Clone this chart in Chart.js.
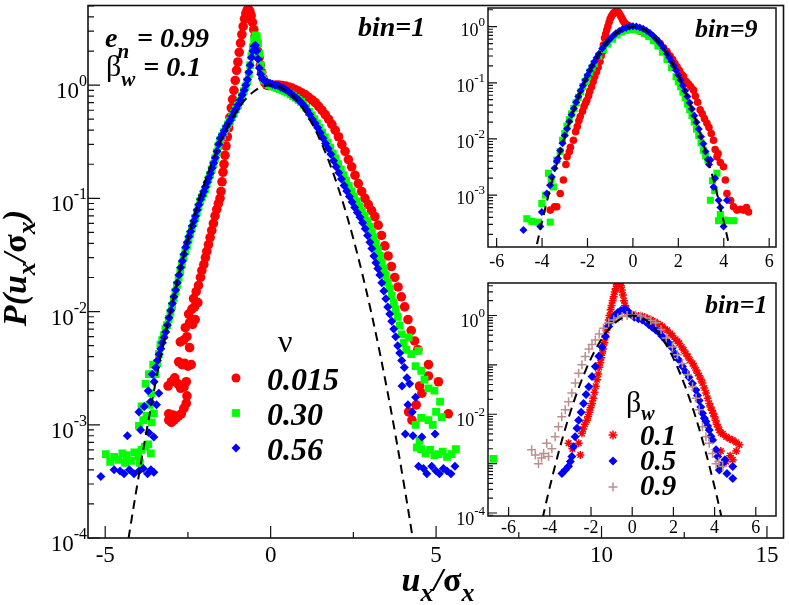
<!DOCTYPE html>
<html>
<head>
<meta charset="utf-8">
<script src="https://cdn.jsdelivr.net/npm/chart.js@4.4.1/dist/chart.umd.min.js"></script>
<style>
  body { margin: 0; background: #fff; }
  #wrap { position: relative; width: 789px; height: 605px; }
  canvas { position: absolute; }
</style>
</head>
<body>
<div id="wrap">
  <canvas id="mainChart" width="789" height="605" style="left:0;top:0"></canvas>
  <canvas id="topInset" width="349" height="280" style="left:440px;top:0"></canvas>
  <canvas id="botInset" width="349" height="280" style="left:440px;top:270px"></canvas>
</div>
<script>
// ---- data ----

// dashed reference curve, shared by all panels
const gaussX = [-4.5,-4.25,-4,-3.75,-3.5,-3.25,-3,-2.75,-2.5,-2.25,-2,-1.75,-1.5,-1.25,-1,-0.75,-0.5,-0.25,0,
                0.25,0.5,0.75,1,1.25,1.5,1.75,2,2.25,2.5,2.75,3,3.25,3.5,3.75,4,4.25,4.5];
const gaussY = [4.0e-5,1.2e-4,3.35e-4,8.85e-4,2.19e-3,5.1e-3,0.0111,0.0228,0.0439,0.0796,0.135,0.216,0.325,0.458,0.607,0.755,0.882,0.969,1.0,
                0.969,0.882,0.755,0.607,0.458,0.325,0.216,0.135,0.0796,0.0439,0.0228,0.0111,5.1e-3,2.19e-3,8.85e-4,3.35e-4,1.2e-4,4.0e-5];

// main panel, bin=1, nu = 0.015 / 0.30 / 0.56
const mainRed = [
  [-3.08,1.1e-3],[-3.0,1.05e-3],[-2.92,1.1e-3],[-2.85,1.15e-3],[-2.78,1.2e-3],[-2.7,1.25e-3],[-2.62,1.4e-3],[-2.55,1.55e-3],[-2.53,1.8e-3],[-3.08,1.25e-3],[-2.95,1.22e-3],
  [-3.1,2.2e-3],[-3.0,2.4e-3],[-2.9,2.6e-3],[-2.8,2.3e-3],[-2.72,2.1e-3],[-2.62,2.15e-3],[-2.55,2.4e-3],
  [-2.78,3.6e-3],[-2.68,3.4e-3],[-2.6,3.5e-3],[-2.5,3.3e-3],[-2.4,3.4e-3],
  [-2.73,5.4e-3],[-2.63,5.6e-3],[-2.53,6.0e-3],[-2.45,4.8e-3],
  [-2.58,7.2e-3],[-2.45,8.0e-3],[-2.36,7.7e-3],[-2.28,8.5e-3],
  [-2.48,9.5e-3],[-2.38,0.0105],[-2.3,0.011],[-2.2,0.012],
  [-2.33,0.013],[-2.25,0.015],[-2.18,0.017],[-2.12,0.02],[-2.08,0.023],[-2.02,0.026],[-1.97,0.03],[-1.93,0.034],[-1.88,0.039],[-1.83,0.045],
  [-1.78,0.052],[-1.73,0.06],[-1.68,0.07],[-1.63,0.08],[-1.58,0.09],[-1.53,0.1],[-1.5,0.115],[-1.47,0.14],[-1.44,0.17],[-1.41,0.2],
  [-1.38,0.24],[-1.35,0.29],[-1.31,0.35],[-1.27,0.42],[-1.23,0.52],[-1.19,0.63],[-1.15,0.75],[-1.11,0.9],[-1.07,1.1],[-1.03,1.35],
  [-0.99,1.6],[-0.95,1.95],[-0.91,2.35],[-0.87,2.8],[-0.83,3.3],[-0.79,3.85],[-0.75,4.3],[-0.71,4.6],[-0.67,4.7],[-0.63,4.5],
  [-0.59,4.1],[-0.55,3.6],[-0.51,3.1],[-0.47,2.7],[-0.43,2.3],[-0.39,2.0],[-0.35,1.75],[-0.31,1.5],[-0.27,1.3],[-0.23,1.15],
  [-0.18,1.05],[-0.12,1.0],[-0.05,0.99],[0.05,0.99],[0.15,1.0],[0.25,1.0],[0.35,0.99],[0.45,0.98],[0.55,0.96],[0.65,0.94],
  [0.75,0.91],[0.85,0.88],[0.95,0.85],[1.05,0.82],[1.15,0.78],[1.25,0.74],[1.35,0.7],[1.45,0.65],[1.55,0.6],[1.65,0.55],
  [1.75,0.5],[1.85,0.45],[1.95,0.4],[2.05,0.35],[2.15,0.3],[2.25,0.26],[2.35,0.22],[2.45,0.19],[2.55,0.16],[2.65,0.135],
  [2.75,0.115],[2.85,0.1],[2.95,0.088],[3.05,0.078],[3.15,0.069],[3.25,0.058],[3.35,0.047],[3.45,0.038],[3.55,0.031],[3.65,0.025],
  [3.75,0.02],[3.85,0.0165],[3.95,0.0135],[4.05,0.011],[4.15,8.5e-3],[4.25,6.8e-3],[4.35,5.5e-3],[4.45,4.6e-3],
  [4.77,3.4e-3],[4.77,2.7e-3],[5.07,2.4e-3],[4.57,1.9e-3],[4.17,1.3e-3],[4.27,1.1e-3],[4.4,1.5e-3],[5.37,1.25e-3],[4.5,2.2e-3]
];
const mainGreen = [
  [-4.98,5.5e-4],[-4.85,4.7e-4],[-4.73,5.2e-4],[-4.6,4.9e-4],[-4.48,5.6e-4],[-4.35,5.4e-4],[-4.22,4.8e-4],[-4.12,5.7e-4],[-4.0,5.3e-4],
  [-3.9,6.0e-4],[-3.8,6.4e-4],[-3.7,6.7e-4],[-3.62,5.6e-4],[-4.4,4.6e-4],[-3.95,4.6e-4],
  [-3.98,9.8e-4],[-3.85,1.1e-3],[-3.75,1.2e-3],[-3.6,1.05e-3],[-3.53,1.26e-3],[-3.9,1.45e-3],[-3.66,1.5e-3],[-3.78,2.3e-3],[-3.68,2.8e-3],[-3.6,1.9e-3],[-3.55,3.4e-3],
  [-3.48,2.8e-3],[-3.43,3.5e-3],[-3.38,4.2e-3],[-3.33,5.1e-3],[-3.28,5.6e-3],[-3.23,6.2e-3],[-3.18,7.0e-3],[-3.13,7.6e-3],[-3.08,8.6e-3],[-3.03,9.8e-3],
  [-2.98,0.0112],[-2.93,0.013],[-2.88,0.015],[-2.83,0.0172],[-2.78,0.0198],[-2.73,0.0225],[-2.68,0.026],[-2.63,0.03],[-2.58,0.034],[-2.53,0.038],
  [-2.48,0.043],[-2.43,0.048],[-2.38,0.054],[-2.33,0.06],[-2.28,0.067],[-2.23,0.075],[-2.18,0.084],[-2.13,0.094],[-2.08,0.102],[-2.03,0.11],
  [-1.98,0.12],[-1.93,0.133],[-1.88,0.147],[-1.83,0.162],[-1.78,0.18],[-1.73,0.2],[-1.68,0.225],[-1.63,0.255],[-1.58,0.29],[-1.53,0.325],
  [-1.47,0.355],[-1.41,0.385],[-1.35,0.415],[-1.29,0.45],[-1.23,0.48],[-1.17,0.52],[-1.11,0.56],[-1.05,0.61],[-0.99,0.66],[-0.93,0.72],
  [-0.87,0.8],[-0.81,0.88],[-0.76,0.97],[-0.71,1.08],[-0.66,1.25],[-0.62,1.5],[-0.58,1.8],[-0.54,2.15],[-0.5,2.5],[-0.46,2.75],
  [-0.42,2.7],[-0.38,2.35],[-0.34,1.9],[-0.3,1.5],[-0.26,1.25],[-0.2,1.1],[-0.12,1.03],[-0.04,1.0],[0.04,0.98],[0.12,0.96],
  [0.2,0.94],[0.28,0.92],[0.36,0.9],[0.44,0.88],[0.52,0.86],[0.6,0.83],[0.68,0.8],[0.76,0.77],[0.84,0.74],[0.92,0.71],
  [1.0,0.67],[1.08,0.63],[1.16,0.58],[1.24,0.54],[1.32,0.5],[1.4,0.46],[1.48,0.42],[1.56,0.38],[1.64,0.345],[1.72,0.31],
  [1.8,0.28],[1.88,0.25],[1.96,0.225],[2.04,0.2],[2.12,0.18],[2.2,0.16],[2.28,0.143],[2.36,0.128],[2.44,0.115],[2.52,0.104],
  [2.6,0.094],[2.68,0.085],[2.76,0.077],[2.84,0.07],[2.92,0.063],[3.0,0.056],[3.06,0.05],[3.12,0.045],[3.18,0.04],[3.24,0.035],
  [3.3,0.031],[3.36,0.027],[3.42,0.024],[3.48,0.021],[3.54,0.018],[3.6,0.016],[3.66,0.0138],[3.72,0.012],[3.78,0.0105],[3.84,9.0e-3],
  [3.9,7.5e-3],[3.96,6.3e-3],[4.02,5.3e-3],[4.1,4.6e-3],[4.17,5.9e-3],[4.25,4.2e-3],[4.38,3.3e-3],[4.47,4.5e-3],[4.55,3.0e-3],[4.65,2.5e-3],
  [4.77,2.1e-3],[4.95,2.0e-3],[5.12,1.6e-3],[5.17,1.17e-3],[4.77,1.1e-3],[4.38,1.0e-3],[4.55,1.15e-3],[5.0,1.3e-3],[4.9,1.0e-3],
  [4.42,6.3e-4],[4.55,6.1e-4],[4.68,5.6e-4],[4.82,6.0e-4],[4.95,5.4e-4],[5.07,5.5e-4],[5.2,5.8e-4],[5.33,5.2e-4],[5.47,5.5e-4],[5.6,6.1e-4],
  [4.5,7.2e-4],[6.73,5.0e-4]
];
const mainBlue = [
  [-5.13,3.5e-4],[-4.73,4.0e-4],[-4.55,3.9e-4],[-4.43,3.7e-4],[-4.27,4.0e-4],[-4.13,3.7e-4],[-3.98,3.9e-4],[-3.85,4.1e-4],[-3.72,3.7e-4],[-3.62,4.0e-4],[-3.53,3.8e-4],
  [-4.33,8.0e-4],[-3.93,9.0e-4],[-3.53,7.8e-4],[-3.68,8.5e-4],
  [-3.98,1.3e-3],[-3.82,1.45e-3],[-3.63,1.6e-3],[-3.45,1.5e-3],[-3.38,1.9e-3],[-3.7,2.0e-3],
  [-3.58,2.8e-3],[-3.52,2.4e-3],[-3.47,3.2e-3],[-3.42,3.7e-3],[-3.37,4.2e-3],[-3.32,4.7e-3],[-3.27,5.3e-3],[-3.22,5.9e-3],[-3.17,6.6e-3],[-3.12,7.6e-3],
  [-3.07,8.8e-3],[-3.02,0.0102],[-2.97,0.0118],[-2.92,0.0135],[-2.87,0.0155],[-2.82,0.018],[-2.77,0.021],[-2.72,0.0245],[-2.67,0.028],[-2.62,0.032],
  [-2.57,0.037],[-2.52,0.041],[-2.47,0.046],[-2.42,0.051],[-2.37,0.057],[-2.32,0.063],[-2.27,0.07],[-2.22,0.079],[-2.17,0.088],[-2.12,0.098],
  [-2.07,0.106],[-2.02,0.115],[-1.97,0.126],[-1.92,0.139],[-1.87,0.152],[-1.82,0.167],[-1.77,0.185],[-1.72,0.205],[-1.67,0.228],[-1.62,0.26],
  [-1.57,0.3],[-1.52,0.34],[-1.46,0.365],[-1.4,0.395],[-1.34,0.43],[-1.28,0.46],[-1.22,0.49],[-1.16,0.53],[-1.1,0.58],[-1.04,0.62],
  [-0.98,0.67],[-0.92,0.74],[-0.86,0.82],[-0.8,0.9],[-0.75,1.0],[-0.7,1.12],[-0.66,1.3],[-0.62,1.5],[-0.58,1.75],[-0.54,2.0],
  [-0.5,2.2],[-0.46,2.25],[-0.42,2.0],[-0.38,1.7],[-0.34,1.42],[-0.3,1.25],[-0.25,1.15],[-0.18,1.09],[-0.1,1.06],[-0.02,1.04],
  [0.06,1.02],[0.14,1.0],[0.22,0.99],[0.3,0.96],[0.38,0.94],[0.46,0.91],[0.54,0.88],[0.62,0.84],[0.7,0.8],[0.78,0.77],
  [0.86,0.73],[0.94,0.69],[1.02,0.65],[1.1,0.6],[1.18,0.55],[1.26,0.5],[1.34,0.46],[1.42,0.42],[1.5,0.38],[1.58,0.34],
  [1.66,0.305],[1.74,0.275],[1.82,0.245],[1.9,0.215],[1.98,0.19],[2.06,0.168],[2.14,0.148],[2.22,0.13],[2.3,0.116],[2.38,0.104],
  [2.46,0.093],[2.54,0.083],[2.62,0.075],[2.7,0.068],[2.78,0.061],[2.86,0.054],[2.93,0.047],[3.0,0.041],[3.06,0.036],[3.12,0.031],
  [3.18,0.027],[3.24,0.024],[3.3,0.021],[3.36,0.018],[3.42,0.0152],[3.48,0.013],[3.54,0.011],[3.6,9.5e-3],[3.66,8.2e-3],[3.72,7.0e-3],
  [3.78,6.0e-3],[3.84,5.0e-3],[3.9,4.3e-3],[3.96,3.7e-3],[4.04,3.2e-3],[3.97,2.2e-3],[4.12,2.6e-3],[4.2,2.3e-3],[4.38,1.75e-3],[4.15,1.5e-3],
  [4.28,1.3e-3],[4.07,8.3e-4],[4.3,8.0e-4],[4.57,7.8e-4],[4.97,8.3e-4],[4.47,4.3e-4],[4.62,4.1e-4],[4.72,3.7e-4],[4.87,4.3e-4],[5.0,3.9e-4],
  [5.1,3.7e-4],[5.22,4.1e-4],[5.33,3.9e-4],[5.45,3.7e-4],[5.57,4.3e-4]
];

// top inset, bin=9
const topRed = [
  [-3.64,5.4e-4],[-3.45,6.2e-4],[-3.35,6.2e-4],[-3.2,1.07e-3],[-3.06,1.86e-3],[-2.95,3.5e-3],[-2.9,4.8e-3],[-2.8,5.9e-3],[-2.75,7.1e-3],[-2.62,9.5e-3],
  [-2.52,0.0135],[-2.45,0.0166],[-2.38,0.021],[-2.32,0.025],[-2.22,0.031],[-2.15,0.038],[-2.08,0.044],[-2.03,0.049],[-1.95,0.059],[-1.9,0.071],
  [-1.82,0.085],[-1.75,0.105],[-1.68,0.13],[-1.6,0.158],[-1.53,0.19],[-1.45,0.24],[-1.4,0.3],[-1.35,0.355],[-1.3,0.47],[-1.25,0.63],
  [-1.2,0.74],[-1.15,0.87],[-1.1,1.02],[-1.05,1.2],[-1.0,1.38],[-0.95,1.51],[-0.9,1.65],[-0.85,1.74],[-0.8,1.8],[-0.75,1.86],
  [-0.7,1.86],[-0.65,1.82],[-0.6,1.72],[-0.55,1.58],[-0.5,1.45],[-0.45,1.32],[-0.4,1.22],[-0.35,1.15],[-0.28,1.08],[-0.2,1.05],
  [-0.1,1.0],[0.0,0.95],[0.1,0.9],[0.2,0.87],[0.3,0.84],[0.45,0.8],[0.6,0.74],[0.75,0.69],[0.9,0.63],[1.05,0.57],
  [1.2,0.5],[1.35,0.42],[1.5,0.36],[1.64,0.3],[1.75,0.26],[1.85,0.22],[1.95,0.19],[2.05,0.165],[2.15,0.14],[2.23,0.129],
  [2.35,0.105],[2.45,0.095],[2.55,0.085],[2.67,0.074],[2.75,0.058],[2.85,0.045],[2.96,0.033],[3.05,0.028],[3.15,0.023],[3.26,0.019],
  [3.35,0.016],[3.45,0.0125],[3.55,9.5e-3],[3.62,6.5e-3],[3.7,4.8e-3],[3.75,5.5e-3],[3.85,3.8e-3],[3.99,3.2e-3],[4.07,1.86e-3],[4.14,1.07e-3],
  [4.3,8.0e-4],[4.43,6.2e-4],[4.58,5.4e-4],[4.75,5.6e-4],[4.87,5.4e-4],[5.0,6.0e-4],[5.09,5.0e-4]
];
const topGreen = [
  [-4.67,3.8e-4],[-4.45,3.4e-4],[-4.16,3.3e-4],[-3.64,3.3e-4],[-4.01,7.1e-4],[-3.85,1.0e-3],[-3.72,2.45e-3],[-3.5,1.4e-3],[-3.6,1.9e-3],[-3.35,4.2e-3],[-3.2,6.0e-3],
  [-3.1,9.5e-3],[-3.0,0.0125],[-2.9,0.017],[-2.8,0.022],[-2.7,0.028],[-2.6,0.035],[-2.5,0.044],[-2.4,0.055],[-2.3,0.069],[-2.2,0.086],
  [-2.1,0.105],[-2.0,0.128],[-1.9,0.155],[-1.8,0.185],[-1.7,0.22],[-1.5,0.3],[-1.3,0.39],[-1.1,0.49],[-0.9,0.6],[-0.7,0.71],
  [-0.5,0.8],[-0.3,0.86],[-0.1,0.89],[0.1,0.88],[0.3,0.84],[0.5,0.76],[0.7,0.67],[0.9,0.56],[1.1,0.45],[1.3,0.35],
  [1.5,0.26],[1.7,0.185],[1.9,0.128],[2.0,0.104],[2.1,0.085],[2.2,0.068],[2.3,0.054],[2.4,0.042],[2.5,0.033],[2.6,0.026],
  [2.7,0.02],[2.8,0.015],[2.9,0.0115],[3.0,8.5e-3],[3.1,6.3e-3],[3.2,5.0e-3],[3.3,4.2e-3],
  [3.41,8.1e-4],[3.5,1.8e-3],[3.6,1.2e-3],[3.7,2.45e-3],[3.77,3.5e-4],[3.85,4.5e-4],[4.0,3.6e-4],[4.14,3.5e-4],[4.43,3.5e-4]
];
const topBlue = [
  [-4.82,2.4e-4],[-4.08,2.75e-4],[-4.01,5.0e-4],[-3.79,1.07e-3],[-3.65,1.5e-3],[-3.57,2.1e-3],[-3.45,3.0e-3],[-3.35,4.0e-3],
  [-3.3,4.5e-3],[-3.2,6.2e-3],[-3.1,8.4e-3],[-3.0,0.0115],[-2.9,0.0152],[-2.8,0.0205],[-2.7,0.027],[-2.6,0.035],[-2.5,0.045],[-2.4,0.057],
  [-2.3,0.072],[-2.2,0.09],[-2.1,0.112],[-2.0,0.137],[-1.9,0.166],[-1.8,0.2],[-1.7,0.238],[-1.6,0.28],[-1.5,0.327],[-1.35,0.41],
  [-1.2,0.49],[-1.05,0.58],[-0.9,0.67],[-0.75,0.76],[-0.6,0.84],[-0.45,0.91],[-0.3,0.96],[-0.15,1.0],[0.0,1.02],[0.15,1.01],
  [0.3,0.97],[0.45,0.92],[0.6,0.85],[0.75,0.77],[0.9,0.68],[1.05,0.59],[1.2,0.5],[1.35,0.415],[1.5,0.33],[1.6,0.283],
  [1.7,0.24],[1.8,0.202],[1.9,0.168],[2.0,0.138],[2.1,0.112],[2.2,0.09],[2.3,0.072],[2.4,0.057],[2.5,0.044],[2.6,0.034],
  [2.7,0.026],[2.8,0.0198],[2.9,0.015],[3.0,0.011],[3.1,8.2e-3],[3.2,6.0e-3],[3.3,4.3e-3],
  [3.35,3.5e-3],[3.41,4.2e-3],[3.55,1.4e-3],[3.62,2.0e-3],[3.77,8.1e-4],[3.85,6.0e-4],[3.99,2.75e-4],[4.14,8.1e-4]
];

// bottom inset, bin=1, beta_w = 0.1 / 0.5 / 0.9
const botRed = [
  [-3.09,2.6e-3],[-2.9,2.0e-3],[-2.6,2.6e-3],[-2.52,1.5e-3],[-2.44,4.1e-3],[-2.38,5.0e-3],[-2.3,6.3e-3],[-2.2,7.6e-3],[-2.14,9.0e-3],[-2.08,0.011],
  [-2.02,0.0135],[-1.95,0.0166],[-1.89,0.021],[-1.83,0.028],[-1.77,0.037],[-1.71,0.05],[-1.65,0.065],[-1.6,0.089],[-1.55,0.11],[-1.5,0.14],
  [-1.46,0.174],[-1.41,0.21],[-1.35,0.28],[-1.3,0.36],[-1.25,0.5],[-1.2,0.62],[-1.14,0.81],[-1.1,1.0],[-1.05,1.3],[-1.0,1.6],
  [-0.95,2.0],[-0.9,2.4],[-0.85,3.0],[-0.8,3.5],[-0.75,4.2],[-0.7,4.5],[-0.65,4.6],[-0.6,4.3],[-0.55,4.0],[-0.5,3.3],
  [-0.45,2.6],[-0.4,2.0],[-0.35,1.6],[-0.3,1.35],[-0.25,1.2],[-0.15,1.1],[-0.05,1.05],[0.1,1.0],[0.3,0.98],[0.49,0.95],
  [0.6,0.92],[0.75,0.87],[0.9,0.82],[1.0,0.78],[1.1,0.74],[1.25,0.68],[1.35,0.64],[1.46,0.6],[1.6,0.53],[1.7,0.5],
  [1.85,0.43],[1.95,0.39],[2.1,0.33],[2.2,0.3],[2.28,0.275],[2.4,0.23],[2.5,0.2],[2.6,0.17],[2.7,0.148],[2.8,0.125],
  [2.93,0.107],[3.0,0.095],[3.1,0.079],[3.18,0.068],[3.25,0.06],[3.33,0.051],[3.41,0.043],[3.5,0.034],[3.58,0.027],[3.66,0.021],
  [3.74,0.0166],[3.8,0.014],[3.87,0.012],[3.93,0.0105],[3.99,8.9e-3],[4.05,7.5e-3],[4.1,6.3e-3],[4.17,5.5e-3],[4.23,4.8e-3],[4.3,4.2e-3],
  [4.4,4.0e-3],[4.56,3.5e-3],[4.72,3.2e-3],[4.88,3.0e-3],[5.04,2.7e-3],[5.2,2.4e-3],[4.88,1.2e-3],[4.56,1.1e-3],[4.3,1.8e-3],[5.05,1.8e-3],[4.75,1.45e-3]
];
const botBlue = [
  [-3.41,6.3e-4],[-3.25,7.4e-4],[-3.09,8.9e-4],[-3.0,1.1e-3],[-2.93,1.4e-3],[-2.85,2.2e-3],[-2.77,3.5e-3],[-2.68,5.2e-3],[-2.6,7.6e-3],[-2.48,0.011],
  [-2.36,0.0166],[-2.24,0.025],[-2.11,0.036],[-1.95,0.058],[-1.79,0.093],[-1.62,0.15],[-1.46,0.23],[-1.3,0.38],[-1.14,0.6],[-1.0,0.79],
  [-0.85,1.0],[-0.7,1.15],[-0.55,1.26],[-0.4,1.32],[-0.3,1.3],[-0.2,1.2],[-0.05,1.05],[0.1,0.92],[0.3,0.86],[0.49,0.81],
  [0.65,0.75],[0.8,0.66],[0.97,0.58],[1.14,0.51],[1.3,0.45],[1.45,0.38],[1.62,0.32],[1.79,0.275],[1.95,0.22],[2.1,0.166],
  [2.27,0.125],[2.44,0.093],[2.6,0.072],[2.75,0.056],[2.92,0.042],[3.09,0.031],[3.17,0.024],[3.25,0.019],[3.33,0.014],[3.41,0.0105],
  [3.5,8.3e-3],[3.58,7.1e-3],[3.66,5.8e-3],[3.74,4.8e-3],[3.82,3.6e-3],[3.9,3.0e-3],[4.07,1.9e-3],[4.15,1.4e-3],[4.23,7.4e-4],[4.39,1.0e-3],
  [4.6,6.3e-4],[4.88,8.7e-4],[4.88,5.0e-4],[4.3,9.0e-4],[4.5,1.2e-3]
];
const botTan = [
  [-4.88,1.9e-3],[-4.55,1.0e-3],[-4.4,1.3e-3],[-4.7,1.5e-3],[-4.3,1.6e-3],[-4.15,2.6e-3],[-4.06,1.4e-3],[-3.9,2.0e-3],[-3.74,3.5e-3],[-3.58,5.6e-3],
  [-3.42,8.9e-3],[-3.25,0.0123],[-3.09,0.018],[-2.93,0.027],[-2.76,0.043],[-2.6,0.068],[-2.44,0.1],[-2.28,0.148],[-2.1,0.21],[-1.95,0.26],
  [-1.79,0.32],[-1.6,0.42],[-1.4,0.55],[-1.14,0.71],[-0.9,0.81],[-0.7,0.89],[-0.49,0.95],[-0.25,1.0],[0.0,1.02],[0.17,1.02],
  [0.4,0.98],[0.65,0.89],[0.9,0.79],[1.14,0.71],[1.4,0.52],[1.65,0.35],[1.95,0.23],[2.2,0.16],[2.44,0.107],[2.7,0.063],
  [2.93,0.036],[3.1,0.021],[3.25,0.0123],[3.41,5.6e-3],[3.58,3.5e-3],[3.74,2.6e-3],[3.9,1.6e-3],[4.07,1.0e-3],[4.2,1.1e-3],[4.39,8.7e-4]
];

// axis ticks and labels
const mainXMajor = [-5, 0, 5, 10, 15];
const mainXMinor = [-2.5, 2.5, 7.5, 12.5];
const mainYExp = ['0', '-1', '-2', '-3', '-4'];
const insetXTicks = [-6, -4, -2, 0, 2, 4, 6];
const topYExp = ['0', '-1', '-2', '-3'];
const botYExp = ['0', '-2', '-4'];
const mainLegend = ['0.015', '0.30', '0.56'];
const botLegend = ['0.1', '0.5', '0.9'];

// ---- drawing helpers ----
const SERIF = '"Liberation Serif"';
const RED = '#ff0000', GREEN = '#00ff00', BLUE = '#0000ff', TAN = '#bc8f8f';

function pts(arr) { return arr.map(p => ({ x: p[0], y: p[1] })); }

function rich(ctx, segs, x, y, align) {
  let w = 0;
  segs.forEach(s => { ctx.font = s.f; s.w = ctx.measureText(s.t).width + (s.gap || 0); w += s.w; });
  let cx = align === 'center' ? x - w / 2 : x;
  segs.forEach(s => { ctx.font = s.f; ctx.fillText(s.t, cx, y + (s.dy || 0)); cx += s.w; });
}

function marker(ctx, style, x, y, r, color) {
  ctx.save();
  ctx.fillStyle = color; ctx.strokeStyle = color; ctx.lineWidth = 1.5;
  ctx.beginPath();
  if (style === 'circle') { ctx.arc(x, y, r, 0, Math.PI * 2); ctx.fill(); }
  else if (style === 'rect') { const s = r * Math.SQRT1_2; ctx.fillRect(x - s, y - s, 2 * s, 2 * s); }
  else if (style === 'rectRot') {
    ctx.moveTo(x - r, y); ctx.lineTo(x, y - r); ctx.lineTo(x + r, y); ctx.lineTo(x, y + r); ctx.closePath(); ctx.fill();
  } else {
    ctx.moveTo(x - r, y); ctx.lineTo(x + r, y); ctx.moveTo(x, y - r); ctx.lineTo(x, y + r);
    if (style === 'star') {
      const d = r * Math.SQRT1_2;
      ctx.moveTo(x - d, y - d); ctx.lineTo(x + d, y + d); ctx.moveTo(x - d, y + d); ctx.lineTo(x + d, y - d);
    }
    ctx.stroke();
  }
  ctx.restore();
}

// frame, inward ticks and tick labels for one panel
function makeFrame(cfg) {
  return {
    id: 'frame_' + cfg.name,
    afterDatasetsDraw(chart) {
      const { ctx, chartArea: a, scales: { x, y } } = chart;
      ctx.save();
      ctx.strokeStyle = '#111';
      ctx.lineWidth = cfg.frameWidth;
      ctx.strokeRect(a.left, a.top, a.right - a.left, a.bottom - a.top);
      ctx.lineWidth = 1.2;
      ctx.beginPath();
      cfg.xMajor.forEach(v => { const p = x.getPixelForValue(v); ctx.moveTo(p, a.bottom); ctx.lineTo(p, a.bottom - cfg.majorLen); });
      cfg.xMinor.forEach(v => { const p = x.getPixelForValue(v); ctx.moveTo(p, a.bottom); ctx.lineTo(p, a.bottom - cfg.minorLen); });
      for (let d = -5; d <= 1; d++) {
        for (let k = 1; k < 10; k++) {
          const v = k * Math.pow(10, d);
          if (v < y.min || v > y.max) continue;
          const p = y.getPixelForValue(v);
          ctx.moveTo(a.left, p);
          ctx.lineTo(a.left + (k === 1 ? cfg.majorLen : cfg.minorLen), p);
        }
      }
      ctx.stroke();

      ctx.fillStyle = '#000';
      ctx.textBaseline = 'alphabetic';
      ctx.textAlign = 'center';
      ctx.font = cfg.tickSize + 'px ' + SERIF;
      cfg.xMajor.forEach(v => ctx.fillText(String(v), x.getPixelForValue(v), cfg.xLabelBase));
      ctx.textAlign = 'left';
      cfg.yExp.forEach(e => {
        const p = y.getPixelForValue(Math.pow(10, Number(e)));
        ctx.font = cfg.supSize + 'px ' + SERIF;
        const w2 = ctx.measureText(e).width;
        ctx.font = cfg.tickSize + 'px ' + SERIF;
        const w1 = ctx.measureText('10').width;
        ctx.fillText('10', cfg.yLabelRight - w2 - w1, p + cfg.yBaseOff);
        ctx.font = cfg.supSize + 'px ' + SERIF;
        ctx.fillText(e, cfg.yLabelRight - w2, p + cfg.yBaseOff - cfg.supRise);
      });
      if (cfg.extra) cfg.extra(ctx, chart);
      ctx.restore();
    }
  };
}

function BI(size) { return 'italic bold ' + size + 'px ' + SERIF; }
function RG(size) { return size + 'px ' + SERIF; }
function BD(size) { return 'bold ' + size + 'px ' + SERIF; }

function dashedSet(order) {
  return {
    data: gaussX.map((v, i) => ({ x: v, y: gaussY[i] })),
    showLine: true, borderColor: '#000', borderWidth: 2, borderDash: [9, 6],
    pointRadius: 0, tension: 0.35, order: order, clip: 0
  };
}
function pointSet(arr, style, r, color, order, stroke) {
  return {
    data: pts(arr), showLine: false, pointStyle: style, pointRadius: r,
    pointBackgroundColor: color, pointBorderColor: color,
    pointBorderWidth: stroke ? 1.5 : 0, order: order, clip: 0
  };
}
function baseOptions(pad, xr, yr) {
  return {
    responsive: false, animation: false, events: [],
    layout: { padding: pad },
    scales: {
      x: { type: 'linear', min: xr[0], max: xr[1], display: false },
      y: { type: 'logarithmic', min: yr[0], max: yr[1], display: false }
    },
    plugins: { legend: { display: false }, tooltip: { enabled: false } }
  };
}

// ---- main panel ----
const mainFrame = makeFrame({
  name: 'main', frameWidth: 1.6, majorLen: 12, minorLen: 6,
  xMajor: mainXMajor, xMinor: mainXMinor, yExp: mainYExp,
  tickSize: 23, supSize: 16, xLabelBase: 562, yLabelRight: 87, yBaseOff: 13, supRise: 12,
  extra(ctx) {
    ctx.textAlign = 'left';
    rich(ctx, [{ t: 'e', f: BI(28) }, { t: 'n', f: BI(21), dy: 11, gap: 8 }, { t: '= 0.99', f: BI(28) }], 105, 47);
    rich(ctx, [{ t: 'β', f: RG(30) }, { t: 'w', f: BI(21), dy: 10, gap: 8 }, { t: '= 0.1', f: BI(28) }], 106, 76);
    ctx.font = BI(28);
    ctx.fillText('bin=1', 358, 36);
    // legend
    ctx.font = RG(32);
    ctx.fillText('ν', 278, 352);
    const st = ['circle', 'rect', 'rectRot'], col = [RED, GREEN, BLUE], rr = [4.5, 5.5, 4.5];
    mainLegend.forEach((t, i) => {
      marker(ctx, st[i], 236, 378 + 35 * i, rr[i], col[i]);
      ctx.fillStyle = '#000';
      ctx.font = BI(32);
      ctx.fillText(t, 267, 390 + 35 * i);
    });
    // axis titles
    rich(ctx, [{ t: 'u', f: BI(34) }, { t: 'x', f: BI(26), dy: 10 }, { t: '/', f: BI(34) }, { t: 'σ', f: BD(34) }, { t: 'x', f: BI(26), dy: 10 }], 438, 591, 'center');
    ctx.save();
    ctx.translate(26, 268);
    ctx.rotate(-Math.PI / 2);
    rich(ctx, [{ t: 'P(', f: BI(34) }, { t: 'u', f: BI(34) }, { t: 'x', f: BI(26), dy: 9 }, { t: '/', f: BI(34) }, { t: 'σ', f: BD(34) }, { t: 'x', f: BI(26), dy: 9 }, { t: ')', f: BI(34) }], 0, 0, 'center');
    ctx.restore();
  }
});

new Chart(document.getElementById('mainChart'), {
  type: 'scatter',
  data: { datasets: [
    dashedSet(0),
    pointSet(mainBlue, 'rectRot', 4.5, BLUE, 1),
    pointSet(mainGreen, 'rect', 5.5, GREEN, 2),
    pointSet(mainRed, 'circle', 4.8, RED, 3)
  ] },
  options: baseOptions({ left: 88, right: 2, top: 3, bottom: 67 }, [-5.52, 15.5], [1e-4, 5.05]),
  plugins: [mainFrame]
});

// ---- top inset (bin=9) ----
const topFrame = makeFrame({
  name: 'top', frameWidth: 1.5, majorLen: 9, minorLen: 5,
  xMajor: insetXTicks, xMinor: [], yExp: topYExp,
  tickSize: 18, supSize: 13, xLabelBase: 267, yLabelRight: 45, yBaseOff: 9, supRise: 10,
  extra(ctx) {
    ctx.textAlign = 'left';
    ctx.font = BI(26);
    ctx.fillText('bin=9', 255, 37);
  }
});
new Chart(document.getElementById('topInset'), {
  type: 'scatter',
  data: { datasets: [
    dashedSet(0),
    pointSet(topBlue, 'rectRot', 4, BLUE, 1),
    pointSet(topGreen, 'rect', 5, GREEN, 2),
    pointSet(topRed, 'circle', 3.8, RED, 3)
  ] },
  options: baseOptions({ left: 48, right: 13, top: 8, bottom: 33 }, [-6.38, 6.3], [1.19e-4, 2.15]),
  plugins: [topFrame]
});

// ---- bottom inset (bin=1, beta_w) ----
const botFrame = makeFrame({
  name: 'bot', frameWidth: 1.5, majorLen: 9, minorLen: 5,
  xMajor: insetXTicks, xMinor: [], yExp: botYExp,
  tickSize: 18, supSize: 13, xLabelBase: 263, yLabelRight: 45, yBaseOff: 12, supRise: 10,
  extra(ctx) {
    ctx.textAlign = 'left';
    ctx.font = BI(26);
    ctx.fillText('bin=1', 265, 43);
    rich(ctx, [{ t: 'β', f: RG(30) }, { t: 'w', f: BI(20), dy: 8 }], 186, 142);
    const st = ['star', 'rectRot', 'cross'], col = [RED, BLUE, TAN];
    botLegend.forEach((t, i) => {
      marker(ctx, st[i], 173, 165 + 26 * i, 4.5, col[i]);
      ctx.fillStyle = '#000';
      ctx.font = BI(29);
      ctx.fillText(t, 200, 175 + 25 * i);
    });
  }
});
new Chart(document.getElementById('botInset'), {
  type: 'scatter',
  data: { datasets: [
    dashedSet(0),
    pointSet(botTan, 'cross', 4.5, TAN, 1, true),
    pointSet(botBlue, 'rectRot', 4.5, BLUE, 2),
    pointSet(botRed, 'star', 4, RED, 3, true)
  ] },
  options: baseOptions({ left: 48, right: 13, top: 13, bottom: 34 }, [-7.0, 6.98], [8.7e-5, 4.55]),
  plugins: [botFrame]
});
</script>
</body>
</html>
